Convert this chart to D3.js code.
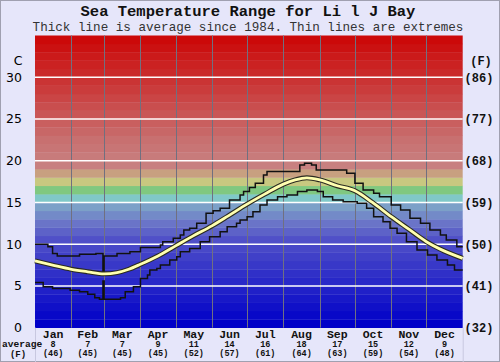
<!DOCTYPE html>
<html>
<head>
<meta charset="utf-8">
<script src="https://cdn.jsdelivr.net/npm/d3@7"></script>
<style>
html,body{margin:0;padding:0;background:#e6e6fa;}
svg{display:block;}
</style>
</head>
<body>
<svg id="chart" width="500" height="362"></svg>
<script>
// ---- data ----
const title = "Sea Temperature Range for Li l J Bay";
const subtitle = "Thick line is average since 1984. Thin lines are extremes";
const months = ["Jan","Feb","Mar","Apr","May","Jun","Jul","Aug","Sep","Oct","Nov","Dec"];
const monthStartDays = [0,31,59,90,120,151,181,212,243,273,304,334,365];
const monthAvgC = ["8","7","7","9","11","14","16","18","17","15","12","9"];
const monthAvgF = ["(46)","(45)","(45)","(45)","(52)","(57)","(61)","(64)","(63)","(59)","(54)","(48)"];
const cTicks = [0,5,10,15,20,25,30];
const fTickLabels = ["(32)","(41)","(50)","(59)","(68)","(77)","(86)"];

// average (day of year, °C)
const avgDays = [0,15,31,45,59,70,80,90,105,120,135,151,165,181,196,212,222,232,243,258,273,288,304,319,334,349,365];
const avgTemp = [8.0,7.5,7.0,6.7,6.45,6.6,7.0,7.6,8.6,9.8,11.0,12.2,13.4,14.8,16.0,17.2,17.7,17.95,17.7,17.0,16.4,15.0,13.3,11.8,10.3,9.2,8.3];

// maximum extremes (stepped)
const maxDays = [0,11,15,19,38,52,58,59,70,81,90,107,109,118,124,127,132,138,146,152,158,166,175,178,183,188,195,198,226,230,236,240,266,273,280,289,294,304,312,320,329,337,346,351,360,365];
const maxTemp = [10.0,9.7,8.9,8.6,8.8,8.9,6.7,8.6,8.9,9.1,9.6,9.9,10.3,10.7,11.1,11.7,11.9,12.5,13.7,14.0,14.3,15.3,15.9,16.3,16.8,17.3,18.3,18.7,19.5,19.7,19.5,18.9,18.5,17.3,16.5,16.1,15.7,14.7,14.1,13.1,12.5,11.7,11.1,10.5,9.7,9.7];

// minimum extremes (stepped)
const minDays = [0,7,15,30,38,45,51,55,58,59,73,77,84,90,96,98,104,107,115,121,124,132,141,149,158,164,172,175,181,186,192,198,207,215,224,232,241,246,254,263,275,283,289,297,303,309,317,326,335,343,352,358,365];
const minTemp = [5.4,4.9,4.7,4.5,4.3,4.0,3.6,3.4,5.6,3.4,3.6,4.3,4.9,5.9,6.3,6.9,7.1,7.5,8.1,8.5,9.1,9.5,10.3,10.9,11.5,12.1,12.5,12.9,13.3,13.9,14.7,15.3,15.7,15.9,16.3,16.5,16.3,15.7,15.3,15.1,14.9,14.3,13.3,12.7,11.9,11.3,10.3,9.3,8.7,8.1,7.5,6.9,6.9];

// ---- layout ----
const svg = d3.select("#chart");
const L = 35, R = 462.7, T = 35.5, B = 327.7;
const x = d3.scaleLinear().domain([0,365]).range([L,R]);
const y = d3.scaleLinear().domain([0,35]).range([B,T]);

// outer frame
svg.append("rect").attr("x",0.5).attr("y",0.5).attr("width",499).attr("height",361)
  .attr("fill","#e6e6fa").attr("stroke","#a0a0b0");

// colour bands
const blue = d3.scaleLinear().domain([0,5,10,12,14]).range(["#0000c8","#2828c8","#5050c8","#6a74c8","#7ca0c8"]);
const red = d3.scaleLinear().domain([19,22,35]).range(["#c88080","#c87070","#cc0000"]);
const mid = {15:"#80c8c8",16:"#80c880",17:"#c8c880",18:"#c8a080"};
function bandColor(t){ if(t<15) return blue(t); if(t<19) return mid[t]; return red(t); }
const bands = d3.range(0,35);
svg.append("g").selectAll("rect").data(bands).join("rect")
  .attr("x",L).attr("width",R-L)
  .attr("y",d=>y(d+1)).attr("height",d=>y(d)-y(d+1)+0.3)
  .attr("fill",d=>bandColor(d));

// vertical month lines
svg.append("g").selectAll("line").data(monthStartDays.slice(1,12)).join("line")
  .attr("x1",d=>Math.round(x(d))+0.5).attr("x2",d=>Math.round(x(d))+0.5)
  .attr("y1",T).attr("y2",B).attr("stroke","#707080").attr("stroke-width",1);

// horizontal white grid
svg.append("g").selectAll("line").data(cTicks.filter(t=>t>0)).join("line")
  .attr("x1",L).attr("x2",R).attr("y1",d=>y(d)).attr("y2",d=>y(d))
  .attr("stroke","#ffffff").attr("stroke-width",1.6);

// lines
const mk = (days,temps)=>days.map((d,i)=>[d,temps[i]]);
const stepLine = d3.line().x(d=>x(d[0])).y(d=>y(d[1])).curve(d3.curveStepAfter);
const smoothLine = d3.line().x(d=>x(d[0])).y(d=>y(d[1])).curve(d3.curveMonotoneX);

svg.append("path").attr("d",stepLine(mk(maxDays,maxTemp))).attr("fill","none")
  .attr("stroke","#111").attr("stroke-width",1.5);
svg.append("path").attr("d",stepLine(mk(minDays,minTemp))).attr("fill","none")
  .attr("stroke","#111").attr("stroke-width",1.5);
svg.append("path").attr("d",smoothLine(mk(avgDays,avgTemp))).attr("fill","none")
  .attr("stroke","#2a2a20").attr("stroke-width",5);
svg.append("path").attr("d",smoothLine(mk(avgDays,avgTemp))).attr("fill","none")
  .attr("stroke","#ffffb0").attr("stroke-width",2.8);

// titles
const mono = "'Liberation Mono','Courier New',monospace";
svg.append("text").attr("x",248).attr("y",16).attr("text-anchor","middle")
  .attr("font-family",mono).attr("font-weight","bold").attr("font-size",15.5).attr("fill","#111").text(title);
svg.append("text").attr("x",248).attr("y",31).attr("text-anchor","middle")
  .attr("font-family",mono).attr("font-size",12.6).attr("fill","#333").text(subtitle);

// left axis labels
const sans = "'DejaVu Sans',Verdana,sans-serif";
svg.append("g").selectAll("text").data(cTicks).join("text")
  .attr("x",22).attr("y",d=>y(d)+4.5).attr("text-anchor","end")
  .attr("font-family",sans).attr("font-size",12.5).attr("fill","#000").text(d=>d);
svg.append("text").attr("x",18).attr("y",65).attr("text-anchor","middle")
  .attr("font-family",sans).attr("font-size",12.5).attr("fill","#000").text("C");

// right axis labels
svg.append("g").selectAll("text").data(cTicks).join("text")
  .attr("x",479).attr("y",(d,i)=>y(d)+4.5).attr("text-anchor","middle")
  .attr("font-family",mono).attr("font-weight","bold").attr("font-size",12).attr("fill","#111")
  .text((d,i)=>fTickLabels[i]);
svg.append("text").attr("x",481).attr("y",65).attr("text-anchor","middle")
  .attr("font-family",mono).attr("font-weight","bold").attr("font-size",12).attr("fill","#111").text("(F)");

// bottom cell separators
svg.append("line").attr("x1",L+0.5).attr("x2",L+0.5).attr("y1",B).attr("y2",362).attr("stroke","#c8c8e0");
svg.append("line").attr("x1",R+0.5).attr("x2",R+0.5).attr("y1",B).attr("y2",362).attr("stroke","#c8c8e0");

// month labels
const mids = months.map((m,i)=>(monthStartDays[i]+monthStartDays[i+1])/2);
const mg = svg.append("g");
mg.selectAll("text.m").data(months).join("text").attr("class","m")
  .attr("x",(d,i)=>x(mids[i])).attr("y",337.5).attr("text-anchor","middle")
  .attr("font-family",mono).attr("font-weight","bold").attr("font-size",11.5).attr("fill","#111").text(d=>d);
mg.selectAll("text.c").data(monthAvgC).join("text").attr("class","c")
  .attr("x",(d,i)=>x(mids[i])).attr("y",347).attr("text-anchor","middle")
  .attr("font-family",mono).attr("font-weight","bold").attr("font-size",8.5).attr("fill","#111").text(d=>d);
mg.selectAll("text.f").data(monthAvgF).join("text").attr("class","f")
  .attr("x",(d,i)=>x(mids[i])).attr("y",356).attr("text-anchor","middle")
  .attr("font-family",mono).attr("font-weight","bold").attr("font-size",8.5).attr("fill","#111").text(d=>d);
svg.append("text").attr("x",2).attr("y",346.5).attr("font-family",mono).attr("font-weight","bold")
  .attr("font-size",9.6).attr("fill","#111").text("average");
svg.append("text").attr("x",18).attr("y",357).attr("text-anchor","middle").attr("font-family",mono).attr("font-weight","bold")
  .attr("font-size",9).attr("fill","#111").text("(F)");
</script>
</body>
</html>
